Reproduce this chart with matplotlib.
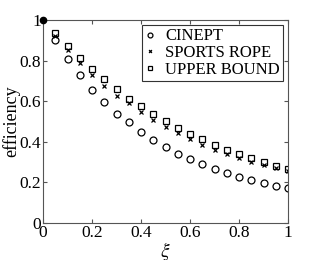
import numpy as np
import matplotlib
matplotlib.use("Agg")
import matplotlib.pyplot as plt

matplotlib.rcParams['font.family'] = ['Liberation Serif', 'DejaVu Serif']
matplotlib.rcParams['mathtext.fontset'] = 'stix'

# xi 値
xi = [0.05, 0.1, 0.15, 0.2, 0.25, 0.3, 0.35, 0.4, 0.45, 0.5,
      0.55, 0.6, 0.65, 0.7, 0.75, 0.8, 0.85, 0.9, 0.95, 1.0]

cinept = [0.90, 0.81, 0.727, 0.655, 0.594, 0.538, 0.499, 0.45, 0.409, 0.373,
          0.338, 0.314, 0.289, 0.264, 0.246, 0.227, 0.212, 0.197, 0.182, 0.171]
sports_rope = [0.923, 0.854, 0.79, 0.727, 0.676, 0.627, 0.59, 0.545, 0.506, 0.471,
               0.442, 0.412, 0.386, 0.36, 0.338, 0.319, 0.30, 0.285, 0.27, 0.256]
upper_bound = [0.936, 0.872, 0.811, 0.759, 0.709, 0.66, 0.611, 0.576, 0.538, 0.502,
               0.468, 0.438, 0.412, 0.384, 0.361, 0.338, 0.319, 0.299, 0.282, 0.266]

# 始点 (xi=0)
start_x = [0.0]
start_y = [1.0]

fig = plt.figure(figsize=(3.19, 2.6), dpi=100)
ax = fig.add_axes([0.135, 0.142, 0.768, 0.781])

ax.plot(xi, cinept, 'o', mfc='none', mec='black', ms=5, mew=0.9, label='CINEPT')
ax.plot(xi, sports_rope, 'x', color='black', ms=3, mew=0.9, label='SPORTS ROPE')
ax.plot(xi, upper_bound, 's', mfc='none', mec='black', ms=3.8, mew=0.9, label='UPPER BOUND')
ax.plot(start_x, start_y, 'o', color='black', ms=4.5, clip_on=False, zorder=5)

ax.set_xlim(0, 1)
ax.set_ylim(0, 1)
ax.set_xticks([0, 0.2, 0.4, 0.6, 0.8, 1])
ax.set_yticks([0, 0.2, 0.4, 0.6, 0.8, 1])
ax.set_xticklabels(['0', '0.2', '0.4', '0.6', '0.8', '1'])
ax.set_yticklabels(['0', '0.2', '0.4', '0.6', '0.8', '1'])
ax.tick_params(direction='in', top=True, right=True, labelsize=12.5, length=3,
               color='#555555', pad=1.5)
for s in ax.spines.values():
    s.set_color('#555555')
    s.set_linewidth(0.8)

ax.set_xlabel(r'$\xi$', fontsize=14)
ax.set_ylabel('efficiency', fontsize=13)
ax.xaxis.set_label_coords(0.5, -0.085)
ax.yaxis.set_label_coords(-0.094, 0.5)

leg = ax.legend(loc='upper right', fontsize=12, handlelength=0.6, handletextpad=0.6,
                borderpad=0.2, labelspacing=0.05, fancybox=False, framealpha=1,
                borderaxespad=0.3, markerscale=0.7)
leg.get_frame().set_edgecolor('#333333')
leg.get_frame().set_linewidth(0.8)

fig.savefig('out.png', dpi=100)
